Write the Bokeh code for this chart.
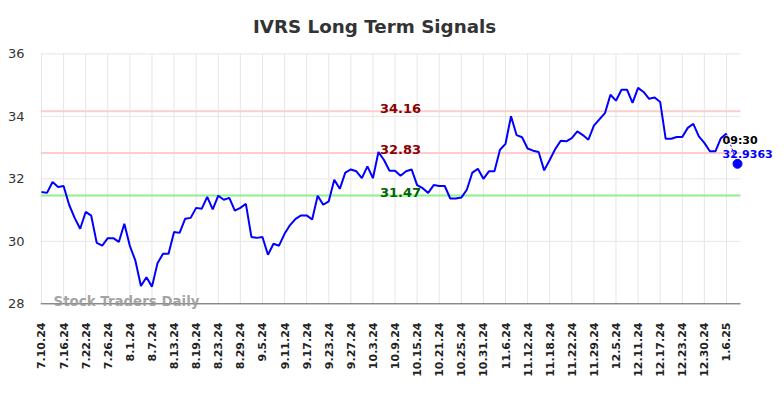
from bokeh.plotting import figure
from bokeh.models import Label, FixedTicker, Range1d, ColumnDataSource
from bokeh.embed import file_html
from bokeh.resources import INLINE
import math

title_text = "IVRS Long Term Signals"
tick_labels = ["7.10.24", "7.16.24", "7.22.24", "7.26.24", "8.1.24", "8.7.24", "8.13.24",
               "8.19.24", "8.23.24", "8.29.24", "9.5.24", "9.11.24", "9.17.24", "9.23.24",
               "9.27.24", "10.3.24", "10.9.24", "10.15.24", "10.21.24", "10.25.24",
               "10.31.24", "11.6.24", "11.12.24", "11.18.24", "11.22.24", "11.29.24",
               "12.5.24", "12.11.24", "12.17.24", "12.23.24", "12.30.24", "1.6.25"]
tick_step = 4
y_ticks = [28, 30, 32, 34, 36]

prices = [31.58, 31.55, 31.90, 31.74, 31.77, 31.17, 30.75, 30.40, 30.94, 30.82,
          29.95, 29.86, 30.10, 30.10, 29.98, 30.56, 29.85, 29.38, 28.57, 28.85,
          28.55, 29.30, 29.60, 29.60, 30.30, 30.27, 30.72, 30.75, 31.07, 31.04,
          31.42, 31.02, 31.46, 31.33, 31.39, 30.98, 31.07, 31.20, 30.14, 30.11,
          30.14, 29.57, 29.92, 29.86, 30.24, 30.52, 30.72, 30.83, 30.83, 30.70,
          31.46, 31.17, 31.28, 31.97, 31.68, 32.20, 32.30, 32.24, 32.02, 32.40,
          32.02, 32.86, 32.60, 32.26, 32.26, 32.10, 32.24, 32.30, 31.80, 31.70,
          31.55, 31.80, 31.77, 31.77, 31.37, 31.37, 31.40, 31.65, 32.20, 32.32,
          32.00, 32.24, 32.24, 32.93, 33.12, 34.00, 33.40, 33.33, 32.97, 32.90,
          32.86, 32.27, 32.60, 32.95, 33.22, 33.20, 33.30, 33.52, 33.40, 33.25,
          33.70, 33.90, 34.10, 34.69, 34.50, 34.85, 34.85, 34.43, 34.91, 34.78,
          34.56, 34.60, 34.46, 33.28, 33.28, 33.34, 33.34, 33.63, 33.76, 33.36,
          33.15, 32.88, 32.88, 33.30, 33.45]

levels = [34.16, 32.83, 31.47]
level_labels = ["34.16", "32.83", "31.47"]
level_line_colors = ["#ffcccc", "#ffcccc", "#90ee90"]
level_text_colors = ["#8b0000", "#8b0000", "#006400"]

last_x = 126
last_y = 32.48
last_time = "09:30"
last_value = "32.9363"

FONT = "DejaVu Sans"

# plotting-area extents (data units)
X0, X_GRID_END, X1 = -0.181, 126.54, 133.06
Y_LO, Y_HI = 28, 36
Y0, Y1 = 27.722, 37.386

p = figure(width=780, height=392, output_backend="svg", toolbar_location=None,
           min_border_left=40, min_border_right=4, min_border_top=10, min_border_bottom=80,
           x_range=Range1d(X0, X1), y_range=Range1d(Y0, Y1))
p.outline_line_color = None
p.background_fill_color = "white"
p.xgrid.visible = False
p.ygrid.visible = False

# axes
p.xaxis.ticker = FixedTicker(ticks=[i * tick_step for i in range(len(tick_labels))])
p.xaxis.major_label_overrides = {i * tick_step: t for i, t in enumerate(tick_labels)}
p.xaxis.major_label_orientation = math.pi / 2
p.xaxis.major_label_text_font = FONT
p.xaxis.major_label_text_font_style = "bold"
p.xaxis.major_label_text_font_size = "11px"
p.xaxis.major_label_text_color = "#222222"
p.xaxis.major_tick_line_color = None
p.xaxis.major_tick_out = 0
p.xaxis.major_tick_in = 0
p.xaxis.minor_tick_line_color = None
p.xaxis.minor_tick_out = 0
p.xaxis.axis_line_color = None
p.xaxis.major_label_standoff = 10

p.yaxis.ticker = FixedTicker(ticks=y_ticks)
p.yaxis.major_label_text_font = FONT
p.yaxis.major_label_text_font_size = "13px"
p.yaxis.major_label_text_color = "#333333"
p.yaxis.major_tick_line_color = None
p.yaxis.major_tick_out = 0
p.yaxis.major_tick_in = 0
p.yaxis.minor_tick_line_color = None
p.yaxis.minor_tick_out = 0
p.yaxis.axis_line_color = None
p.yaxis.major_label_standoff = 16

# grid lines (drawn inside the chart box only)
xt = [i * tick_step for i in range(len(tick_labels))]
p.segment(x0=xt, y0=[Y_LO] * len(xt), x1=xt, y1=[Y_HI] * len(xt),
          line_color="#e6e6e6", line_width=1)
yt = y_ticks[1:]
p.segment(x0=[X0] * len(yt), y0=yt, x1=[X_GRID_END] * len(yt), y1=yt,
          line_color="#e6e6e6", line_width=1)

# level lines
p.segment(x0=[X0] * len(levels), y0=levels, x1=[X_GRID_END] * len(levels), y1=levels,
          line_color=level_line_colors, line_width=2)

for lv, lt, tc in zip(levels, level_labels, level_text_colors):
    p.add_layout(Label(x=65, y=lv + 0.1, text=lt, text_align="center", text_baseline="alphabetic",
                       text_font=FONT, text_font_style="bold",
                       text_font_size="13px", text_color=tc))

# bottom axis line
p.segment(x0=[X0], y0=[Y_LO], x1=[X_GRID_END], y1=[Y_LO], line_color="#555555", line_width=1)

xs = list(range(len(prices)))
src = ColumnDataSource(dict(x=xs, y=prices))
p.line("x", "y", source=src, line_color="#0000ff", line_width=2)

p.line([xs[-1], last_x], [prices[-1], last_y], line_color="#0000ff", line_width=1,
       line_dash="2 2")
p.scatter([last_x], [last_y], size=9, color="#0000ff")

p.add_layout(Label(x=123.3, y=33.23, text=last_time, text_align="left", text_baseline="middle",
                   text_font=FONT, text_font_style="bold", text_font_size="11px",
                   text_color="#000000"))
p.add_layout(Label(x=123.3, y=32.81, text=last_value, text_align="left", text_baseline="middle",
                   text_font=FONT, text_font_style="bold", text_font_size="11px",
                   text_color="#0000ff"))

# watermark
p.add_layout(Label(x=2.17, y=28.07, text="Stock Traders Daily", text_align="left",
                   text_baseline="middle", text_font=FONT, text_font_style="bold",
                   text_font_size="13.4px", text_color="#999999", text_alpha=0.9))

# title
p.add_layout(Label(x=60.3, y=36.874, text=title_text, text_align="center",
                   text_baseline="middle", text_font=FONT, text_font_style="bold",
                   text_font_size="18.3px", text_color="#333333"))

open("out.html", "w").write(file_html(p, INLINE))
